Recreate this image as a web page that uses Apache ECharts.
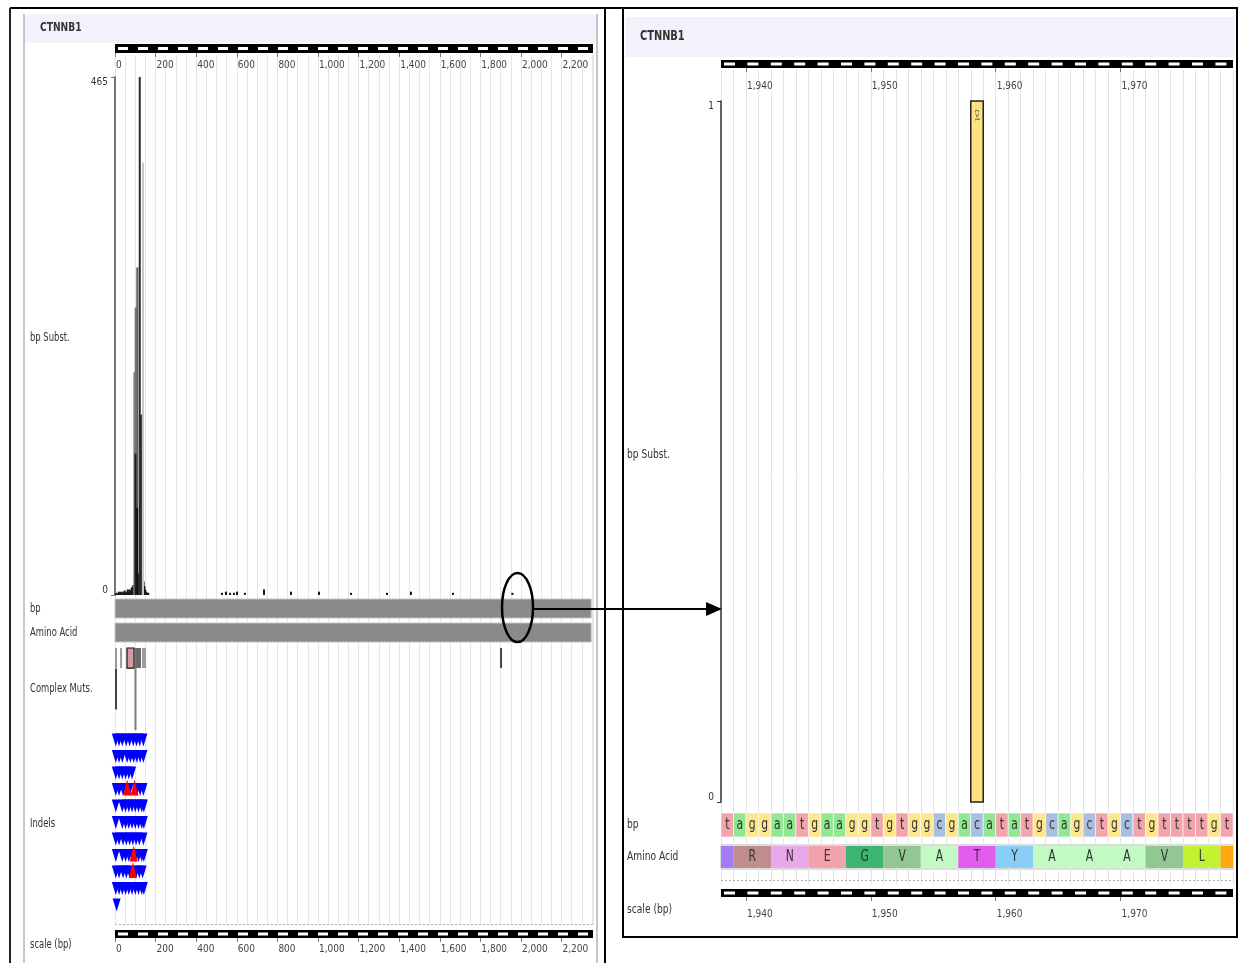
<!DOCTYPE html>
<html><head><meta charset="utf-8">
<script src="https://cdn.jsdelivr.net/npm/echarts@6.0.0/dist/echarts.min.js"></script>
<style>html,body{margin:0;padding:0;background:#fff}#c{width:1245px;height:963px}</style>
</head><body><div id="c"></div>
<script>
// ---------------- DATA ----------------
const geneName = 'CTNNB1';
const cdsLength = 2346;
const overviewMax = 2355;
const overviewTicks = [0, 200, 400, 600, 800, 1000, 1200, 1400, 1600, 1800, 2000, 2200];
const overviewSubstMax = 465;
// substitution positions (bp) and counts, overview
const overviewSubstPos = [3, 8, 14, 19, 24, 30, 36, 41, 47, 52, 57, 63, 68, 73, 78, 83, 87, 90, 98, 105, 113, 116, 119, 125, 131, 134, 141, 145, 149, 153, 158, 164,
  527, 547, 567, 586, 601, 640, 734, 867, 1005, 1163, 1340, 1458, 1665, 1958,
  95, 102, 110, 138, 128, 122, 101, 109];
const overviewSubstCount = [1, 2, 1, 3, 2, 3, 2, 3, 4, 2, 3, 5, 3, 5, 4, 7, 6, 9, 16, 12, 18, 11, 20, 14, 10, 9, 12, 8, 5, 3, 2, 2,
  2, 3, 2, 2, 3, 2, 5, 3, 3, 2, 2, 3, 2, 2,
  200, 258, 294, 388, 162, 465, 127, 78];
// complex mutations: spans (bp) and stems [bp, count]
const complexSpanStart = [0, 25, 59, 99, 133, 1897];
const complexSpanEnd = [10, 26, 94, 128, 153, 1898];
const complexStemPos = [5, 101];
const complexStemCount = [2, 3];
// indels: per row, deletion positions and insertion positions (bp)
const deletionRows = [
  [4, 20, 36, 55, 72, 90, 106, 122, 140],
  [4, 20, 36, 60, 76, 92, 108, 124, 140],
  [4, 20, 36, 52, 68, 84],
  [4, 20, 40, 72, 108, 124, 140],
  [4, 36, 52, 68, 84, 100, 116, 132, 142],
  [4, 36, 52, 68, 84, 100, 116, 132, 142],
  [4, 20, 40, 56, 72, 88, 104, 120, 140],
  [4, 36, 52, 68, 84, 100, 116, 132, 142],
  [4, 20, 40, 56, 72, 104, 120, 136],
  [4, 20, 36, 52, 68, 84, 100, 116, 132, 142],
  [8]
];
const insertionRows = [[], [], [], [60, 96], [], [], [], [92], [88], [], []];
// zoomed view
const zoomStart = 1938;
const zoomEnd = 1979;
const zoomTicks = [1940, 1950, 1960, 1970];
const zoomSequence = 'taggaatgaaggtgtggcgacatatgcagctgctgttttgt';
const zoomCodonStart = 1936;
const zoomAminoAcids = ['S', 'R', 'N', 'E', 'G', 'V', 'A', 'T', 'Y', 'A', 'A', 'A', 'V', 'L', 'F'];
const zoomSubstPos = [1958];
const zoomSubstCount = [1];
const zoomSubstLabel = ['c>t'];

// ---------------- STYLE ----------------
const FAMILY = '"DejaVu Sans Condensed","Liberation Sans Narrow","DejaVu Sans",sans-serif';
const TXT = '#333';
const NUC_COLORS = {t: '#f2a3ab', a: '#92e892', g: '#fde68c', c: '#a9bfe2'};
const AA_COLORS = {S: '#a27cf2', R: '#bf8d8d', N: '#e8a8ea', E: '#f2a2ac', G: '#3db472', V: '#92c794',
  A: '#c3f9c3', T: '#e35cf0', Y: '#88cdf8', L: '#c2f232', F: '#ffa812'};
const HIST_SHADE = {95: '#8e8e8e', 102: '#727272', 110: '#5c5c5c', 138: '#c8c8c8', 128: '#3c3c3c', 122: '#2a2a2a', 101: '#1e1e1e', 109: '#111'};
const COMPLEX_FILL = ['#8d9bab', '#9a9a9a', '#d39aa2', '#6a6a6a', '#9c9c9c', '#444'];
const COMPLEX_STROKE = [null, null, '#111', null, null, null];
const STEM_COLOR = ['#444', '#7a7a7a'];

const LX = 115, LW = 478, RX = 721, RW = 512;

// ---------------- BUILD ----------------
const grids = [], xAxes = [], yAxes = [], series = [];
function addGrid(left, width, top, height, xmin, xmax, yopt, xopt) {
  const gi = grids.length;
  grids.push({left: left, width: width, top: top, height: height, containLabel: false, outerBoundsMode: 'none', show: false});
  xAxes.push(Object.assign({gridIndex: gi, type: 'value', min: xmin, max: xmax, show: false}, xopt || {}));
  yAxes.push(Object.assign({gridIndex: gi, type: 'value', min: 0, max: 1, show: false}, yopt || {}));
  return gi;
}
const fmt = v => Number(v).toLocaleString('en-US');
function scaleAxis(ticks, margin) {
  return {
    show: true, position: 'bottom',
    axisLine: {show: false},
    axisTick: {show: true, customValues: ticks, length: 4, lineStyle: {color: '#777', width: 1}},
    axisLabel: {show: true, customValues: ticks, formatter: fmt, align: 'left', margin: margin,
      color: '#444', fontSize: 10, fontStyle: 'condensed', fontFamily: FAMILY, padding: [0, 0, 0, 1]},
    splitLine: {show: false}
  };
}
function valueAxis(max, color, lw) {
  return {
    show: true, min: 0, max: max, interval: max,
    axisLine: {show: true, lineStyle: {color: color, width: lw}},
    axisTick: {show: true, length: 4, lineStyle: {color: color}},
    axisLabel: {show: true, color: '#333', fontSize: 10, fontStyle: 'condensed', fontFamily: FAMILY, margin: 7,
      verticalAlignMinLabel: 'bottom', verticalAlignMaxLabel: 'top'},
    splitLine: {show: false}
  };
}

// --- left panel ---
const gLbg = addGrid(LX, LW, 55, 870, 0, overviewMax, null, {
  show: true, interval: 50, axisLine: {show: false}, axisTick: {show: false}, axisLabel: {show: false},
  splitLine: {show: true, lineStyle: {color: '#e6e6e6', width: 1}}
});
const gLtop = addGrid(LX, LW, 44, 9, 0, overviewMax, null, scaleAxis(overviewTicks, 7));
const gLhist = addGrid(LX, LW, 77, 518, 0, overviewMax, valueAxis(overviewSubstMax, '#777', 2));
const gLbp = addGrid(LX, LW, 599, 19, 0, overviewMax);
const gLaa = addGrid(LX, LW, 623, 19, 0, overviewMax);
const gLcx = addGrid(LX, LW, 648, 82, 0, overviewMax, {min: 0, max: 4, inverse: true});
const gLin = addGrid(LX, LW, 731.75, 181.5, 0, overviewMax, {min: -0.5, max: 10.5, inverse: true});
const gLbot = addGrid(LX, LW, 930, 8, 0, overviewMax, null, scaleAxis(overviewTicks, 6));

// --- right panel ---
const gRbg = addGrid(RX, RW, 70, 815, zoomStart, zoomEnd, null, {
  show: true, interval: 1, axisLine: {show: false}, axisTick: {show: false}, axisLabel: {show: false},
  splitLine: {show: true, lineStyle: {color: '#e4e4e4', width: 1}}
});
const gRtop = addGrid(RX, RW, 60, 8, zoomStart, zoomEnd, null, scaleAxis(zoomTicks, 13));
const gRhist = addGrid(RX, RW, 101, 701, zoomStart, zoomEnd, valueAxis(1, '#333', 1.5));
const gRbp = addGrid(RX, RW, 813, 24, zoomStart, zoomEnd);
const gRaa = addGrid(RX, RW, 845, 24, zoomStart, zoomEnd);
const gRbot = addGrid(RX, RW, 889, 8, zoomStart, zoomEnd, null, scaleAxis(zoomTicks, 12));
grids[gRaa].show = true; grids[gRaa].borderColor = '#b8b8b8'; grids[gRaa].borderWidth = 1; grids[gRaa].backgroundColor = 'transparent';

function cs(gi) { return {coordinateSystem: 'cartesian2d', xAxisIndex: gi, yAxisIndex: gi}; }

// left histogram
series.push(Object.assign(cs(gLhist), {
  type: 'custom',
  data: overviewSubstPos.map((p, i) => [p, overviewSubstCount[i]]),
  renderItem: function (params, api) {
    const bp = api.value(0), n = api.value(1);
    const b = api.coord([bp, 0]), t = api.coord([bp, n]);
    const w = 2;
    return {type: 'rect', shape: {x: b[0] - w / 2, y: t[1], width: w, height: b[1] - t[1]},
      style: {fill: HIST_SHADE[bp] || '#1a1a1a'}};
  }
}));

// left gray tracks
function trackSeries(gi, fill, stroke) {
  return Object.assign(cs(gi), {
    type: 'custom', data: [[0, cdsLength]],
    renderItem: function (params, api) {
      const a = api.coord([api.value(0), 1]), b = api.coord([api.value(1), 0]);
      return {type: 'rect', shape: {x: a[0], y: a[1], width: b[0] - a[0], height: b[1] - a[1]},
        style: {fill: fill, stroke: stroke, lineWidth: 1}};
    }
  });
}
series.push(trackSeries(gLbp, '#8a8a8a', '#c4c4c4'));
series.push(trackSeries(gLaa, '#8a8a8a', '#c4c4c4'));

// complex muts
series.push(Object.assign(cs(gLcx), {
  type: 'custom',
  data: complexStemPos.map((p, i) => [p, complexStemCount[i]]),
  renderItem: function (params, api) {
    const a = api.coord([api.value(0), 1]), b = api.coord([api.value(0), 1 + api.value(1)]);
    return {type: 'rect', shape: {x: a[0] - 1, y: a[1], width: 2, height: b[1] - a[1]},
      style: {fill: STEM_COLOR[params.dataIndex]}};
  }
}));
series.push(Object.assign(cs(gLcx), {
  type: 'custom',
  data: complexSpanStart.map((s, i) => [s, complexSpanEnd[i]]),
  renderItem: function (params, api) {
    const a = api.coord([api.value(0), 0]), b = api.coord([api.value(1), 0.98]);
    const w = Math.max(2, b[0] - a[0]);
    const st = COMPLEX_STROKE[params.dataIndex];
    return {type: 'rect', shape: {x: a[0], y: a[1], width: w, height: b[1] - a[1]},
      style: {fill: COMPLEX_FILL[params.dataIndex], stroke: st || null, lineWidth: st ? 1.2 : 0}};
  }
}));

// indels
const delData = [], insData = [];
deletionRows.forEach((row, r) => row.forEach(p => delData.push([p, r])));
insertionRows.forEach((row, r) => row.forEach(p => insData.push([p, r])));
series.push(Object.assign(cs(gLin), {
  type: 'scatter', data: delData, symbol: 'triangle', symbolRotate: 180, symbolSize: [8, 13],
  itemStyle: {color: '#0000ff', opacity: 1}, silent: true, animation: false
}));
series.push(Object.assign(cs(gLin), {
  type: 'scatter', data: insData, symbol: 'triangle', symbolSize: [8, 16], symbolOffset: [0, -2],
  itemStyle: {color: '#ff0000', opacity: 1}, silent: true, animation: false, z: 3
}));

// right histogram
series.push(Object.assign(cs(gRhist), {
  type: 'custom',
  data: zoomSubstPos.map((p, i) => [p, zoomSubstCount[i]]),
  renderItem: function (params, api) {
    const bp = api.value(0), n = api.value(1);
    const b = api.coord([bp, 0]), t = api.coord([bp + 1, n]);
    const cx = (b[0] + t[0]) / 2;
    return {type: 'group', children: [
      {type: 'rect', shape: {x: b[0], y: t[1], width: t[0] - b[0], height: b[1] - t[1]},
        style: {fill: '#ffe27e', stroke: '#222', lineWidth: 1.5}},
      {type: 'text', x: cx, y: t[1] + 14, rotation: -Math.PI / 2,
        style: {text: zoomSubstLabel[params.dataIndex], align: 'center', verticalAlign: 'middle',
          fill: '#444', font: '7px ' + FAMILY}}
    ]};
  }
}));

// right nucleotide row
series.push(Object.assign(cs(gRbp), {
  type: 'custom',
  data: zoomSequence.split('').map((b, i) => [zoomStart + i, 0]),
  renderItem: function (params, api) {
    const pos = api.value(0);
    const a = api.coord([pos, 1]), b = api.coord([pos + 1, 0]);
    const base = zoomSequence[params.dataIndex];
    return {type: 'group', children: [
      {type: 'rect', shape: {x: a[0], y: a[1], width: b[0] - a[0], height: b[1] - a[1]},
        style: {fill: NUC_COLORS[base], stroke: 'rgba(255,255,255,0.6)', lineWidth: 1}},
      {type: 'text', x: (a[0] + b[0]) / 2, y: (a[1] + b[1]) / 2, scaleX: 0.8,
        style: {text: base, align: 'center', verticalAlign: 'middle', fill: '#333', font: '15px ' + FAMILY}}
    ]};
  }
}));

// right amino acid row
series.push(Object.assign(cs(gRaa), {
  type: 'custom',
  data: zoomAminoAcids.map((aa, i) => [zoomCodonStart + 3 * i, 0]),
  renderItem: function (params, api) {
    const st = api.value(0);
    const s = Math.max(st, zoomStart), e = Math.min(st + 3, zoomEnd);
    if (e <= s) return null;
    const a = api.coord([s, 1]), b = api.coord([e, 0]);
    const aa = zoomAminoAcids[params.dataIndex];
    const ch = [{type: 'rect', shape: {x: a[0], y: a[1] + 1, width: b[0] - a[0], height: b[1] - a[1] - 2},
      style: {fill: AA_COLORS[aa]}}];
    if (e - s === 3) ch.push({type: 'text', x: (a[0] + b[0]) / 2, y: (a[1] + b[1]) / 2, scaleX: 0.8,
      style: {text: aa, align: 'center', verticalAlign: 'middle', fill: '#333', font: '15px ' + FAMILY}});
    return {type: 'group', children: ch};
  }
}));

// ---------------- DECORATION ----------------
const graphics = [];
function line(x1, y1, x2, y2, color, w, dash) {
  graphics.push({type: 'line', shape: {x1: x1, y1: y1, x2: x2, y2: y2},
    style: {stroke: color, lineWidth: w, lineDash: dash || null}, silent: true, z: 100});
}
function text(x, y, s, size, bold) {
  graphics.push({type: 'text', x: x, y: y, scaleX: 0.78, style: {text: s, align: 'left', verticalAlign: 'middle',
    fill: TXT, font: (bold ? 'bold ' : '') + size + 'px ' + FAMILY}, silent: true, z: 100});
}
function scaleBar(x0, w, y, h, period, dashW, offset) {
  const ch = [{type: 'rect', shape: {x: x0, y: y, width: w, height: h}, style: {fill: '#000'}}];
  for (let x = x0 + offset; x + 2 < x0 + w; x += period) {
    ch.push({type: 'rect', shape: {x: x, y: y + h / 2 - 1.5, width: Math.min(dashW, x0 + w - x - 1), height: 3}, style: {fill: '#fff'}});
  }
  graphics.push({type: 'group', children: ch, silent: true, z: 100});
}
// header bands
graphics.push({type: 'rect', shape: {x: 25, y: 15, width: 572, height: 28}, style: {fill: '#f2f2fc'}, z: -10, silent: true});
graphics.push({type: 'rect', shape: {x: 626, y: 17, width: 609, height: 40}, style: {fill: '#f2f2fc'}, z: -10, silent: true});
// frames
line(10, 8, 1237, 8, '#000', 2);
line(10, 8, 10, 963, '#222', 2);
line(605, 8, 605, 963, '#000', 2);
line(24, 14, 24, 963, '#b5b5b5', 1.5);
line(597, 14, 597, 963, '#b5b5b5', 1.5);
graphics.push({type: 'rect', shape: {x: 623, y: 8, width: 614, height: 929}, style: {fill: null, stroke: '#000', lineWidth: 2}, z: 100, silent: true});
// dotted lines
line(LX, 924.5, LX + LW, 924.5, '#b0b0b0', 1, [2, 2]);
line(RX, 880.5, RX + RW, 880.5, '#b0b0b0', 1, [2, 2]);
// scale bars
scaleBar(LX, LW, 44, 9, 20, 10, 3);
scaleBar(LX, LW, 930, 8, 20, 10, 3);
scaleBar(RX, RW, 60, 8, 23.4, 11, 3);
scaleBar(RX, RW, 889, 8, 23.4, 11, 3);
// labels
text(40, 28, geneName, 13, true);
text(30, 338, 'bp Subst.', 12);
text(30, 609, 'bp', 12);
text(30, 633, 'Amino Acid', 12);
text(30, 689, 'Complex Muts.', 12);
text(30, 824, 'Indels', 12);
text(30, 945, 'scale (bp)', 12);
text(640, 36, geneName, 14, true);
text(627, 455, 'bp Subst.', 13);
text(627, 825, 'bp', 13);
text(627, 857, 'Amino Acid', 13);
text(627, 910, 'scale (bp)', 13);
// zoom annotation: ellipse + arrow
graphics.push({type: 'ellipse', shape: {cx: 517.5, cy: 607.5, rx: 15.5, ry: 34.5},
  style: {fill: null, stroke: '#000', lineWidth: 2.5}, z: 110, silent: true});
line(533, 609, 710, 609, '#000', 2);
graphics.push({type: 'polygon', shape: {points: [[706, 602], [722, 609], [706, 616]]}, style: {fill: '#000'}, z: 110, silent: true});

const chart = echarts.init(document.getElementById('c'), null, {renderer: 'canvas', width: 1245, height: 963});
chart.setOption({
  animation: false,
  backgroundColor: '#fff',
  grid: grids, xAxis: xAxes, yAxis: yAxes, series: series,
  graphic: {elements: graphics}
});
</script></body></html>
